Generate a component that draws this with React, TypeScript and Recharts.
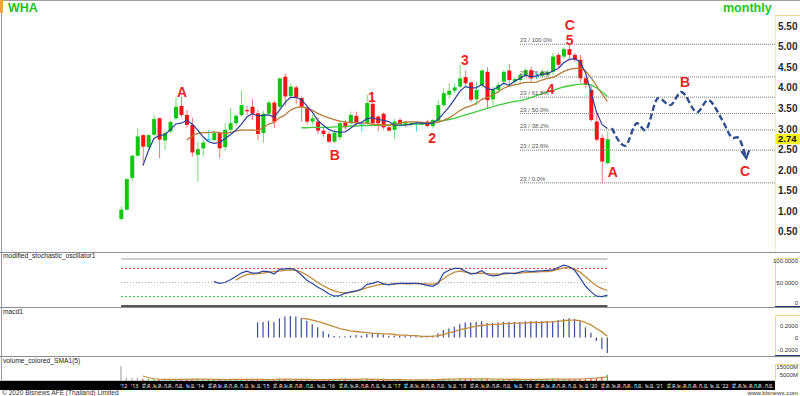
import React from 'react';
import {
  ComposedChart,
  Bar,
  Line,
  Scatter,
  XAxis,
  YAxis,
  ReferenceLine,
  Cell,
} from 'recharts';

const FONT = '"Liberation Sans", Arial, sans-serif';
const THAI_FONT = '"Noto Sans", "Liberation Sans", sans-serif';
// month index: 0 = Jan 2013
const X_DOMAIN: [number, number] = [-23.79, 117.66];
const FIRST_MONTH = -2; // Nov 2012

// monthly OHLC (WHA)
const opens = [
  0.8, 1.03, 1.8, 2.34, 2.84, 2.55, 2.85, 3.25, 2.71, 2.93,
  3.25, 3.55, 3.33, 3.09, 2.36, 2.52, 2.73, 2.72, 2.89, 2.55,
  2.97, 3.13, 3.33, 3.45, 3.53, 3.37, 2.89, 3.36, 3.63, 3.53,
  4.26, 3.79, 4.0, 3.74, 3.5, 3.17, 3.17, 2.95, 2.87, 2.68,
  2.79, 3.15, 3.13, 3.31, 3.09, 3.13, 3.6, 3.29, 3.36, 3.03,
  2.97, 3.21, 3.09, 3.12, 3.11, 3.1, 3.17, 3.06, 3.19, 3.57,
  3.82, 3.92, 4.02, 4.25, 4.12, 3.71, 4.06, 4.38, 3.71, 3.94,
  4.14, 4.41, 4.14, 4.18, 4.3, 4.42, 4.26, 4.28, 4.3, 4.38,
  4.79, 4.75, 4.93, 4.79, 4.67, 4.22, 3.94, 3.17, 2.77, 2.16,
];
const highs = [
  1.11, 1.8, 2.36, 3.01, 2.86, 2.86, 3.33, 3.27, 2.95, 3.2,
  3.76, 3.77, 3.45, 3.26, 2.68, 2.74, 2.97, 2.95, 2.93, 3.13,
  3.5, 3.36, 3.92, 3.55, 3.71, 3.45, 3.43, 3.68, 3.68, 4.24,
  4.34, 4.1, 4.05, 3.78, 3.55, 3.33, 3.28, 3.03, 2.93, 2.97,
  3.21, 3.21, 3.41, 3.41, 3.17, 3.82, 3.72, 3.33, 3.39, 3.09,
  3.23, 3.26, 3.19, 3.17, 3.17, 3.17, 3.21, 3.23, 3.7, 3.98,
  4.1, 4.1, 4.55, 4.41, 4.14, 4.14, 4.45, 4.49, 4.02, 4.12,
  4.41, 4.57, 4.25, 4.35, 4.48, 4.5, 4.35, 4.45, 4.42, 4.84,
  4.84, 4.98, 5.05, 4.84, 4.79, 4.25, 4.06, 3.37, 2.85, 2.93,
];
const lows = [
  0.78, 1.0, 1.71, 2.32, 2.12, 2.5, 2.82, 2.28, 2.48, 2.88,
  3.2, 3.28, 3.02, 2.32, 1.71, 2.32, 2.7, 2.68, 2.28, 2.45,
  2.92, 3.07, 3.29, 3.33, 3.21, 2.72, 2.65, 3.34, 3.01, 3.47,
  3.55, 3.74, 3.6, 3.17, 3.1, 3.1, 2.87, 2.8, 2.65, 2.65,
  2.72, 2.97, 3.07, 3.05, 2.93, 3.07, 3.09, 2.93, 2.97, 2.93,
  2.74, 3.07, 3.03, 3.05, 2.93, 3.06, 3.03, 3.01, 3.17, 3.53,
  3.74, 3.86, 3.98, 4.02, 3.64, 3.56, 3.98, 3.5, 3.56, 3.86,
  4.02, 4.02, 4.06, 4.12, 4.25, 4.15, 4.2, 4.22, 4.25, 4.3,
  4.5, 4.68, 4.7, 4.62, 4.12, 3.98, 3.17, 2.68, 1.67, 2.12,
];
const closes = [
  1.03, 1.77, 2.34, 2.81, 2.56, 2.84, 3.23, 2.73, 2.89, 3.16,
  3.53, 3.33, 3.09, 2.42, 2.5, 2.66, 2.73, 2.89, 2.52, 2.97,
  3.13, 3.31, 3.57, 3.42, 3.37, 2.87, 3.36, 3.63, 3.17, 4.22,
  3.78, 4.02, 3.76, 3.53, 3.17, 3.25, 2.95, 2.87, 2.68, 2.9,
  3.13, 3.03, 3.33, 3.15, 3.09, 3.62, 3.13, 3.13, 3.03, 2.95,
  3.17, 3.11, 3.15, 3.14, 3.11, 3.14, 3.06, 3.21, 3.57, 3.86,
  3.92, 4.0, 4.22, 4.1, 3.7, 3.94, 4.41, 3.69, 3.94, 4.06,
  4.38, 4.18, 4.2, 4.3, 4.42, 4.22, 4.26, 4.38, 4.38, 4.75,
  4.55, 4.93, 4.79, 4.67, 4.22, 4.06, 3.21, 2.73, 2.2, 2.74,
];

// moving averages (blue, brown, green)
const maFastVals = [
  2.1, 2.46, 2.76, 2.83, 2.85, 2.97, 3.11, 3.13, 3.2, 3.11,
  2.97, 2.8, 2.68, 2.64, 2.66, 2.75, 2.85, 2.96, 3.1, 3.28,
  3.36, 3.31, 3.32, 3.33, 3.28, 3.45, 3.63, 3.76, 3.76, 3.7,
  3.55, 3.4, 3.2, 3.08, 2.98, 2.93, 2.91, 2.92, 3.01, 3.11,
  3.15, 3.24, 3.26, 3.22, 3.2, 3.17, 3.08, 3.08, 3.08, 3.1,
  3.14, 3.13, 3.12, 3.13, 3.22, 3.37, 3.52, 3.71, 3.91, 4.02,
  3.99, 3.99, 4.07, 3.97, 3.94, 4.01, 4.1, 4.05, 4.15, 4.22,
  4.3, 4.26, 4.28, 4.32, 4.33, 4.4, 4.46, 4.6, 4.68, 4.7,
  4.62, 4.35, 3.88, 3.4, 3.1, 3.0,
];
const maMidVals = [
  2.72, 2.82, 2.88, 2.9, 2.9, 2.92, 2.9, 2.88, 2.91, 2.94,
  2.97, 2.96, 2.97, 2.95, 3.02, 3.11, 3.15, 3.26, 3.33, 3.45,
  3.51, 3.53, 3.5, 3.44, 3.37, 3.31, 3.26, 3.22, 3.18, 3.16,
  3.15, 3.14, 3.13, 3.13, 3.1, 3.1, 3.08, 3.08, 3.1, 3.14,
  3.16, 3.16, 3.16, 3.15, 3.14, 3.15, 3.15, 3.2, 3.26, 3.34,
  3.44, 3.51, 3.55, 3.61, 3.71, 3.76, 3.82, 3.89, 3.98, 4.03,
  4.06, 4.09, 4.12, 4.12, 4.13, 4.18, 4.22, 4.24, 4.31, 4.39,
  4.44, 4.46, 4.47, 4.4, 4.24, 4.04, 3.84, 3.66,
];
const maSlowVals = [
  3.02, 3.02, 3.03, 3.03, 3.03, 3.03, 3.04, 3.04, 3.05, 3.06,
  3.06, 3.07, 3.07, 3.08, 3.08, 3.08, 3.09, 3.09, 3.09, 3.1,
  3.1, 3.11, 3.11, 3.12, 3.13, 3.16, 3.19, 3.22, 3.25, 3.29,
  3.33, 3.37, 3.41, 3.45, 3.49, 3.53, 3.57, 3.6, 3.63, 3.66,
  3.68, 3.71, 3.75, 3.8, 3.84, 3.89, 3.93, 3.97, 4.01, 4.04,
  4.06, 4.08, 4.08, 4.06, 3.99, 3.89, 3.78,
];

// modified stochastic %K / %D
const stochKVals = [
  52, 48, 50, 56, 63, 70, 74, 70, 70, 74,
  73, 68, 78, 79, 80, 76, 66, 55, 48, 40,
  34, 26, 21, 22, 27, 30, 32, 36, 46, 48,
  52, 47, 45, 47, 48, 48, 48, 48, 47, 44,
  42, 48, 70, 76, 80, 80, 74, 68, 70, 75,
  67, 64, 65, 70, 70, 69, 72, 75, 73, 74,
  75, 76, 77, 82, 87, 84, 76, 60, 42, 30,
  21, 20, 23,
];
const stochDVals = [
  55, 62, 67, 68, 69, 70, 72, 73, 74, 76,
  77, 76, 72, 66, 58, 50, 43, 37, 32, 29,
  28, 29, 31, 35, 39, 42, 45, 46, 46, 47,
  48, 47, 47, 48, 47, 47, 46, 50, 58, 66,
  72, 74, 72, 70, 69, 70, 69, 68, 68, 68,
  69, 70, 70, 71, 72, 72, 73, 73, 75, 78,
  81, 82, 78, 72, 62, 52, 43, 37, 33,
];

// macd histogram and signal
const macdVals = [
  0.25, 0.26, 0.28, 0.26, 0.32, 0.35, 0.36, 0.35, 0.32, 0.28,
  0.22, 0.17, 0.11, 0.06, 0.025, 0.02, 0.02, 0.03, 0.04, 0.03,
  0.06, 0.06, 0.06, 0.05, 0.03, 0.03, 0.03, 0.03, 0.02, 0.02,
  0.02, 0.02, 0.03, 0.07, 0.125, 0.15, 0.18, 0.22, 0.25, 0.25,
  0.26, 0.27, 0.24, 0.24, 0.25, 0.26, 0.26, 0.26, 0.26, 0.27,
  0.27, 0.27, 0.27, 0.27, 0.27, 0.29, 0.31, 0.32, 0.31, 0.27,
  0.17, 0.08, -0.06, -0.19, -0.26,
];
const signalVals = [
  0.32, 0.31, 0.29, 0.27, 0.24, 0.21, 0.18, 0.15, 0.13, 0.11,
  0.1, 0.09, 0.08, 0.07, 0.07, 0.06, 0.06, 0.05, 0.04, 0.04,
  0.03, 0.03, 0.02, 0.02, 0.02, 0.03, 0.05, 0.08, 0.1, 0.13,
  0.15, 0.17, 0.19, 0.2, 0.21, 0.22, 0.22, 0.23, 0.23, 0.24,
  0.24, 0.24, 0.25, 0.25, 0.25, 0.26, 0.26, 0.27, 0.28, 0.29,
  0.29, 0.28, 0.25, 0.21, 0.15, 0.09, 0.02,
];

// volume (million shares) and its SMA(5)
const volume = [
  19000, 4200, 4000, 4300, 2600, 2200, 2400, 2000, 1800, 1600,
  2200, 2600, 2000, 2400, 2800, 1800, 2200, 1600, 1800, 2000,
  2400, 1800, 2600, 1900, 1700, 2100, 1800, 2000, 1700, 3000,
  2500, 2000, 1800, 1900, 2100, 1600, 1700, 1800, 1900, 2300,
  2700, 1700, 2200, 1600, 1500, 3200, 2400, 1700, 1800, 1500,
  2000, 1500, 1600, 1500, 1400, 1500, 1600, 2200, 3000, 2800,
  2400, 2600, 3200, 2500, 2900, 2300, 3100, 2700, 2200, 2100,
  2500, 2400, 2000, 2100, 2300, 2000, 1800, 2000, 1900, 3100,
  2400, 2600, 2300, 2000, 2800, 2400, 3600, 3400, 4500, 8000,
];
const volSmaVals = [
  6500, 4200, 2900, 2400, 2200, 2100, 2100, 2100, 2100, 2300,
  2500, 2400, 2400, 2200, 2000, 1900, 2000, 2100, 2100, 2100,
  2100, 2000, 2100, 1900, 1900, 2300, 2300, 2300, 2200, 2200,
  2100, 1900, 1800, 1800, 1900, 2000, 2100, 2100, 2200, 2100,
  2300, 2300, 2200, 2200, 2100, 1900, 1800, 1700, 1600, 1600,
  1500, 1500, 1600, 1600, 1900, 2200, 2400, 2600, 2800, 2800,
  2800, 2800, 2800, 2800, 2600, 2500, 2300, 2200, 2300, 2200,
  2100, 2100, 2000, 2000, 2300, 2300, 2400, 2500, 2500, 2500,
  2600, 2900, 3300, 3800, 4700, 5200,
];

// fibonacci retracement (drawn from the 2020 low to the 2019 high)
const fibRatios = ['100.0%', '76.4%', '61.8%', '50.0%', '38.2%', '23.6%', '0.0%'];
const fibPrices = [5.05, 4.255, 3.763, 3.365, 2.967, 2.475, 1.68];
const FIB_START = 71.0;

// elliott wave tags
const waveText = ['A', 'B', '1', '2', '3', '4', 'C', '5', 'A', 'B', 'C'];
const waveMonth = [9.15, 37.1, 43.9, 54.9, 60.9, 76.6, 80.1, 80.1, 88.0, 101.2, 112.2];
const wavePrice = [3.89, 2.36, 3.77, 2.77, 4.67, 3.95, 5.52, 5.15, 1.94, 4.13, 1.97];

// dashed projection path
const projMonth = [87.8, 90.2, 92.4, 93.9, 96.3, 98.5, 100.5, 103.4, 105.4, 108.0, 110.0, 110.7, 112.4];
const projPrice = [3.01, 2.58, 3.13, 2.96, 3.74, 3.57, 3.89, 3.4, 3.69, 3.21, 2.77, 2.79, 2.28];

const priceTicks = [0.5, 1, 1.5, 2, 2.5, 3, 3.5, 4, 4.5, 5, 5.5];

const xTickLabels = [
  "'12", "'13", 'มี.ค.', 'พ.ค.', 'ก.ค.', 'ก.ย.', 'พ.ย.',
  "'14", 'มี.ค.', 'พ.ค.', 'ก.ค.', 'ก.ย.', 'พ.ย.',
  "'15", 'มี.ค.', 'พ.ค.', 'ก.ค.', 'ก.ย.', 'พ.ย.',
  "'16", 'มี.ค.', 'พ.ค.', 'ก.ค.', 'ก.ย.', 'พ.ย.',
  "'17", 'มี.ค.', 'พ.ค.', 'ก.ค.', 'ก.ย.', 'พ.ย.',
  "'18", 'มี.ค.', 'พ.ค.', 'ก.ค.', 'ก.ย.', 'พ.ย.',
  "'19", 'มี.ค.', 'พ.ค.', 'ก.ค.', 'ก.ย.', 'พ.ย.',
  "'20", 'มี.ค.', 'พ.ค.', 'ก.ค.', 'ก.ย.', 'พ.ย.',
  "'21", 'มี.ค.', 'พ.ค.', 'ก.ค.', 'ก.ย.', 'พ.ย.',
  "'22", 'มี.ค.', 'พ.ค.', 'ก.ค.', 'ก.ย.',
];
const xTickMonths = xTickLabels.map((_, i) => FIRST_MONTH + i * 2);

const pad = (n: number, vals: number[]) => [...Array(n).fill(null), ...vals];
const maFast = pad(4, maFastVals);
const maMid = pad(12, maMidVals);
const maSlow = pad(33, maSlowVals);
const stochK = pad(17, stochKVals);
const stochD = pad(21, stochDVals);
const macdHist = pad(25, macdVals);
const macdSignal = pad(33, signalVals);
const volSma = pad(4, volSmaVals);

const rows = closes.map((c, i) => ({
  m: FIRST_MONTH + i,
  o: opens[i],
  h: highs[i],
  l: lows[i],
  c,
  range: [lows[i], highs[i]],
  ma5: maFast[i],
  ma13: maMid[i],
  ma34: maSlow[i],
  k: stochK[i],
  d: stochD[i],
  hist: macdHist[i],
  sig: macdSignal[i],
  vol: volume[i],
  volSma: volSma[i],
}));

const LAST_PRICE = closes[closes.length - 1];
const FIRST_M = rows[0].m;
const LAST_M = rows[rows.length - 1].m;

const fibTags = fibPrices.map((p, i) => ({ m: FIB_START, p, t: `23 / ${fibRatios[i]}` }));
const waveTags = waveText.map((t, i) => ({ m: waveMonth[i], p: wavePrice[i], t }));
const projection = projMonth.map((m, i) => ({ m, p: projPrice[i] }));

const BODY_W = 4;

function Candle(props: any) {
  const { x, y, width, height, payload } = props;
  if (!payload || !Number.isFinite(y)) return <g />;
  const { o, h, l, c } = payload;
  const top = Math.min(y, y + height);
  const span = Math.abs(height);
  const k = h > l ? span / (h - l) : 0;
  const py = (v: number) => top + (h - v) * k;
  const mid = x + width / 2;
  const flat = c === o;
  const up = c > o;
  const body = flat ? '#2fd3e6' : up ? '#10c610' : '#f51414';
  const wick = flat ? '#2fd3e6' : up ? '#74dc74' : '#f57676';
  const bTop = py(Math.max(o, c));
  const bBot = py(Math.min(o, c));
  return (
    <g>
      <line x1={mid} x2={mid} y1={top} y2={top + span} stroke={wick} strokeWidth={1} />
      {flat ? (
        <line
          x1={mid - BODY_W / 2 - 0.5}
          x2={mid + BODY_W / 2 + 0.5}
          y1={bTop}
          y2={bTop}
          stroke={body}
          strokeWidth={1.2}
        />
      ) : (
        <rect x={mid - BODY_W / 2} y={bTop} width={BODY_W} height={Math.max(1, bBot - bTop)} fill={body} />
      )}
    </g>
  );
}

const PriceTick = (props: any) => {
  const { x, y, payload } = props;
  const v = payload.value;
  if (v === LAST_PRICE) {
    return (
      <g>
        <rect x={x - 2} y={y - 5.5} width={26} height={10.5} fill="#f7f21a" />
        <text x={x} y={y + 3} fontSize={9.5} fontWeight="bold" fill="#111" fontFamily={FONT}>
          {v.toFixed(2)}
        </text>
      </g>
    );
  }
  return (
    <text x={x} y={y + 4} fontSize={10} fontWeight="bold" fill="#2a2a2a" fontFamily={FONT}>
      {v.toFixed(2)}
    </text>
  );
};

const makeSubTick = (fmt: (v: number) => string, shift: (v: number) => number) => (props: any) => {
  const { x, y, payload } = props;
  return (
    <text x={x + 23} y={y + shift(payload.value)} fontSize={6} fill="#333" textAnchor="end" fontFamily={FONT}>
      {fmt(payload.value)}
    </text>
  );
};

const StochTick = makeSubTick(
  (v) => (v === 0 ? '0' : v.toFixed(4)),
  (v) => (v === 100 ? 4 : v === 0 ? -1 : 2)
);
const MacdTick = makeSubTick((v) => (v === 0 ? '0' : v.toFixed(4)), () => 2);
const VolTick = makeSubTick((v) => `${v}M`, () => 0);

const MonthTick = (props: any) => {
  const { x, y, payload } = props;
  const idx = xTickMonths.indexOf(payload.value);
  return (
    <text x={x - 1} y={y + 6.5} fontSize={5.4} fill="#f2f2f2" fontFamily={THAI_FONT}>
      {xTickLabels[idx]}
    </text>
  );
};

const FibTag = (props: any) => {
  const { cx, cy, payload } = props;
  return (
    <text x={cx} y={cy - 2} fontSize={6} fill="#555" fontFamily={FONT}>
      {payload.t}
    </text>
  );
};

const WaveTag = (props: any) => {
  const { cx, cy, payload } = props;
  return (
    <text
      x={cx}
      y={cy + 5}
      textAnchor="middle"
      fontSize={14}
      fontWeight="bold"
      fill="#ee2424"
      fontFamily={FONT}
    >
      {payload.t}
    </text>
  );
};

const ArrowDot = (props: any) => {
  const { cx, cy, index } = props;
  if (index !== projection.length - 1) return <g key={`d${index}`} />;
  return (
    <path
      key="arrow"
      d={`M${cx - 5},${cy - 7} L${cx},${cy} L${cx + 3},${cy - 8}`}
      stroke="#2e4d8e"
      strokeWidth={2.2}
      fill="none"
    />
  );
};

const hiddenX = <XAxis dataKey="m" type="number" domain={X_DOMAIN} hide />;

function MainPanel() {
  return (
    <ComposedChart width={800} height={252} data={rows} margin={{ top: 1, right: 0, bottom: 0, left: 2 }}>
      {hiddenX}
      {/* separate axis for annotations so they don't shrink the candle band */}
      <XAxis xAxisId="ann" dataKey="m" type="number" domain={X_DOMAIN} hide />
      <YAxis
        orientation="right"
        width={25}
        domain={[0, 6.1]}
        ticks={[...priceTicks, LAST_PRICE]}
        interval={0}
        tickSize={0}
        tickMargin={3}
        axisLine={false}
        tickLine={false}
        tick={PriceTick}
      />
      {fibPrices.map((p, i) => (
        <ReferenceLine
          key={fibRatios[i]}
          segment={[
            { x: FIB_START, y: p },
            { x: X_DOMAIN[1], y: p },
          ]}
          stroke="#7c7c7c"
          strokeDasharray="1 1"
        />
      ))}
      <Scatter xAxisId="ann" data={fibTags} dataKey="p" shape={FibTag} isAnimationActive={false} />
      <Line dataKey="ma34" stroke="#3ccc3c" strokeWidth={1.3} dot={false} isAnimationActive={false} />
      <Line dataKey="ma13" stroke="#b57c36" strokeWidth={1.3} dot={false} isAnimationActive={false} />
      <Bar dataKey="range" barSize={BODY_W} shape={Candle} isAnimationActive={false} />
      <Line dataKey="ma5" stroke="#2c3f97" strokeWidth={1.2} dot={false} isAnimationActive={false} />
      <Line
        xAxisId="ann"
        data={projection}
        dataKey="p"
        type="monotone"
        stroke="#2e4d8e"
        strokeWidth={2.4}
        strokeDasharray="6 3"
        dot={ArrowDot}
        activeDot={false}
        isAnimationActive={false}
      />
      <Scatter xAxisId="ann" data={waveTags} dataKey="p" shape={WaveTag} isAnimationActive={false} />
    </ComposedChart>
  );
}

function StochPanel() {
  const seg = (v: number) => [
    { x: FIRST_M, y: v },
    { x: LAST_M, y: v },
  ];
  return (
    <ComposedChart width={800} height={56} data={rows} margin={{ top: 7, right: 0, bottom: 2, left: 2 }}>
      {hiddenX}
      <YAxis
        orientation="right"
        width={25}
        domain={[0, 100]}
        ticks={[0, 50, 100]}
        interval={0}
        tickSize={0}
        tickMargin={0}
        axisLine={false}
        tickLine={false}
        tick={StochTick}
      />
      <ReferenceLine segment={seg(100)} stroke="#cdcdcd" strokeWidth={2} />
      <ReferenceLine segment={seg(80)} stroke="#ee3030" strokeDasharray="2 2" />
      <ReferenceLine segment={seg(50)} stroke="#b0b0b0" strokeDasharray="1 2" />
      <ReferenceLine segment={seg(20)} stroke="#3cbc3c" strokeDasharray="2 2" />
      <ReferenceLine segment={seg(0)} stroke="#555" strokeWidth={2} />
      <Line dataKey="d" stroke="#c48a3c" strokeWidth={1.3} dot={false} isAnimationActive={false} />
      <Line dataKey="k" stroke="#2d47a0" strokeWidth={1.2} dot={false} isAnimationActive={false} />
    </ComposedChart>
  );
}

function MacdPanel() {
  return (
    <ComposedChart width={800} height={49} data={rows} margin={{ top: 0, right: 0, bottom: 0, left: 2 }}>
      {hiddenX}
      <YAxis
        orientation="right"
        width={25}
        domain={[-0.325, 0.492]}
        ticks={[-0.2, 0, 0.2]}
        interval={0}
        tickSize={0}
        tickMargin={0}
        axisLine={false}
        tickLine={false}
        tick={MacdTick}
      />
      <Bar dataKey="hist" barSize={1.2} fill="#3a4c9e" isAnimationActive={false} />
      <Line dataKey="sig" stroke="#c48a3c" strokeWidth={1.3} dot={false} isAnimationActive={false} />
    </ComposedChart>
  );
}

function VolumePanel() {
  return (
    <ComposedChart width={800} height={33} data={rows} margin={{ top: 0, right: 0, bottom: 0, left: 2 }}>
      <XAxis
        dataKey="m"
        type="number"
        domain={X_DOMAIN}
        ticks={xTickMonths}
        interval={0}
        height={9}
        tickSize={0}
        tickMargin={0}
        axisLine={false}
        tickLine={false}
        tick={MonthTick}
      />
      <YAxis
        orientation="right"
        width={25}
        domain={[0, 31000]}
        ticks={[5000, 15000]}
        interval={0}
        tickSize={0}
        tickMargin={0}
        axisLine={false}
        tickLine={false}
        tick={VolTick}
      />
      <Bar dataKey="vol" barSize={1.2} isAnimationActive={false}>
        {rows.map((r, i) => (
          <Cell key={i} fill={i < 4 ? '#a8a8a8' : r.c >= r.o ? '#22c022' : '#f03030'} />
        ))}
      </Bar>
      <Line dataKey="volSma" stroke="#c48a3c" strokeWidth={1.2} dot={false} isAnimationActive={false} />
    </ComposedChart>
  );
}

function Frame() {
  const cream = '#eadb8c';
  const navy = '#26357f';
  return (
    <svg width={800} height={396} style={{ position: 'absolute', left: 0, top: 0 }}>
      <line x1={0} x2={800} y1={0.5} y2={0.5} stroke="#a0a0a0" />
      <rect x={0} y={0} width={3} height={13} fill="#f2a33a" />
      <line x1={1.5} x2={1.5} y1={13} y2={380} stroke="#9a9a9a" />
      {/* right axis boxes */}
      <line x1={775.5} x2={775.5} y1={15} y2={252} stroke={cream} strokeDasharray="1 1" />
      <line x1={775} x2={800} y1={15.5} y2={15.5} stroke={cream} />
      <line x1={775.5} x2={775.5} y1={258} y2={307} stroke={cream} />
      <line x1={775} x2={800} y1={258.5} y2={258.5} stroke={cream} />
      <line x1={775} x2={800} y1={306.5} y2={306.5} stroke={navy} />
      <line x1={775.5} x2={775.5} y1={315} y2={356} stroke={cream} />
      <line x1={775} x2={800} y1={315.5} y2={315.5} stroke={cream} />
      <line x1={775} x2={800} y1={355.5} y2={355.5} stroke={navy} />
      <line x1={775.5} x2={775.5} y1={364} y2={380} stroke={cream} />
      <line x1={775} x2={800} y1={364.5} y2={364.5} stroke={cream} />
      {/* panel separators */}
      <line x1={0} x2={800} y1={252.5} y2={252.5} stroke="#8c8c8c" />
      <line x1={0} x2={800} y1={307.5} y2={307.5} stroke="#8c8c8c" />
      <line x1={0} x2={800} y1={356.5} y2={356.5} stroke="#8c8c8c" />
      <line x1={0} x2={775} y1={380.5} y2={380.5} stroke="#c8c8c8" />
      <rect x={0} y={381} width={775} height={9} fill="#000" />
      {/* titles */}
      <text x={8} y={11.5} fontSize={12.5} fontWeight="bold" fill="#1fc41f" fontFamily={FONT}>
        WHA
      </text>
      <text x={723} y={11.5} fontSize={12.5} fontWeight="bold" fill="#1fc41f" fontFamily={FONT}>
        monthly
      </text>
      <text x={3} y={258} fontSize={6.7} fill="#222" fontFamily={FONT}>
        modified_stochastic_oscillator1
      </text>
      <text x={3} y={313.5} fontSize={6.7} fill="#222" fontFamily={FONT}>
        macd1
      </text>
      <text x={3} y={362.5} fontSize={6.7} fill="#222" fontFamily={FONT}>
        volume_colored_SMA1(5)
      </text>
      <text x={2} y={394.5} fontSize={6.6} fill="#333" fontFamily={FONT}>
        © 2020 Bisnews AFE (Thailand) Limited
      </text>
      <text x={798} y={394.5} fontSize={6.2} fill="#333" textAnchor="end" fontFamily={FONT}>
        www.bisnews.com
      </text>
    </svg>
  );
}

export default function App() {
  return (
    <div
      style={{
        position: 'absolute',
        left: 0,
        top: 0,
        width: 800,
        height: 396,
        background: '#fff',
        overflow: 'hidden',
      }}
    >
      <Frame />
      <div style={{ position: 'absolute', left: 0, top: 0 }}>
        <MainPanel />
      </div>
      <div style={{ position: 'absolute', left: 0, top: 252 }}>
        <StochPanel />
      </div>
      <div style={{ position: 'absolute', left: 0, top: 308 }}>
        <MacdPanel />
      </div>
      <div style={{ position: 'absolute', left: 0, top: 357 }}>
        <VolumePanel />
      </div>
    </div>
  );
}
